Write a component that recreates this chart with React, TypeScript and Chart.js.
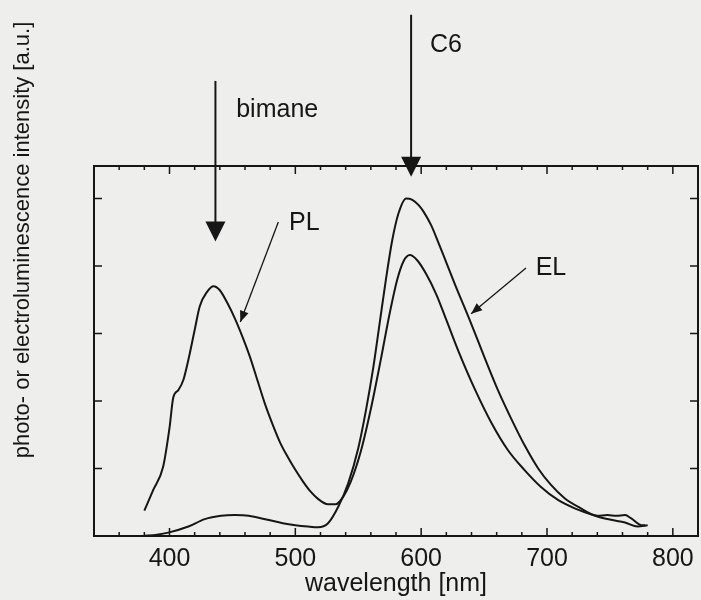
import React, { useEffect, useRef } from 'react';
import { Chart, registerables } from 'chart.js';

Chart.register(...registerables);

// ---- data ----
const plWavelength = [380, 387, 395, 400, 403, 407, 411, 415, 420, 424, 430, 435, 440, 446, 452, 458, 464, 470, 476, 482, 488, 494, 500, 506, 512, 518, 526, 532, 538, 544, 552, 560, 568, 575, 581, 586, 591, 597, 604, 612, 620, 630, 643, 656, 669, 682, 695, 709, 722, 740, 751, 762, 772, 780];
const plIntensity = [0.375, 0.68, 1.03, 1.6, 2.05, 2.16, 2.31, 2.61, 3.05, 3.4, 3.62, 3.7, 3.64, 3.45, 3.22, 2.95, 2.65, 2.3, 1.95, 1.65, 1.38, 1.17, 0.98, 0.81, 0.66, 0.55, 0.47, 0.47, 0.58, 0.8, 1.25, 1.88, 2.62, 3.3, 3.8, 4.07, 4.16, 4.08, 3.88, 3.58, 3.2, 2.72, 2.16, 1.67, 1.27, 0.98, 0.73, 0.53, 0.41, 0.29, 0.24, 0.2, 0.14, 0.16];

const elWavelength = [379, 390, 399, 415, 428, 441, 452, 463, 478, 490, 500, 510, 518, 526, 534, 542, 550, 556, 562, 567, 572, 577, 582, 588, 593, 598, 602, 608, 614, 620, 627, 639, 650, 661, 672, 682, 693, 703, 714, 725, 740, 748, 755, 762, 767, 775, 778];
const elIntensity = [0.0, 0.02, 0.05, 0.14, 0.25, 0.3, 0.31, 0.3, 0.24, 0.19, 0.16, 0.14, 0.13, 0.19, 0.43, 0.78, 1.3, 1.85, 2.5, 3.15, 3.8, 4.38, 4.78, 5.0, 4.98, 4.9, 4.8, 4.6, 4.33, 4.05, 3.72, 3.18, 2.66, 2.16, 1.72, 1.35, 1.0, 0.76, 0.56, 0.43, 0.3, 0.31, 0.3, 0.31, 0.26, 0.16, 0.16];

const xTickLabels = [400, 500, 600, 700, 800];
const xMinorTicks = [360, 380, 420, 440, 460, 480, 520, 540, 560, 580, 620, 640, 660, 680, 720, 740, 760, 780];
const yTicks = [1, 2, 3, 4, 5];

const xTitle = 'wavelength [nm]';
const yTitle = 'photo- or electroluminescence intensity [a.u.]';

// annotation arrows (in data units: wavelength, intensity)
const bigArrows = [
  { text: 'bimane', x: 436.5, from: 6.74, to: 4.36, tx: 453, ty: 6.21 },
  { text: 'C6', x: 592, from: 7.72, to: 5.32, tx: 607, ty: 7.17 },
];
const pointers = [
  { text: 'PL', x0: 486.5, y0: 4.65, x1: 456.3, y1: 3.17, tx: 495, ty: 4.53 },
  { text: 'EL', x0: 683.3, y0: 3.97, x1: 639.7, y1: 3.29, tx: 691, ty: 3.87 },
];

const FONT = '"Liberation Sans", Arial, Helvetica, sans-serif';
const INK = '#161616';
const PAPER = '#eeeeec';

function arrowHead(ctx: CanvasRenderingContext2D, x0: number, y0: number, x1: number, y1: number, len: number, half: number) {
  const ang = Math.atan2(y1 - y0, x1 - x0);
  ctx.beginPath();
  ctx.moveTo(x1, y1);
  ctx.lineTo(x1 - len * Math.cos(ang) + half * Math.sin(ang), y1 - len * Math.sin(ang) - half * Math.cos(ang));
  ctx.lineTo(x1 - len * Math.cos(ang) - half * Math.sin(ang), y1 - len * Math.sin(ang) + half * Math.cos(ang));
  ctx.closePath();
  ctx.fill();
}

const decor = {
  id: 'decor',
  beforeDraw(chart: any) {
    const { ctx, width, height } = chart;
    ctx.save();
    ctx.fillStyle = PAPER;
    ctx.fillRect(0, 0, width, height);
    ctx.restore();
  },
  afterDraw(chart: any) {
    const { ctx, chartArea: a, scales } = chart;
    const x = scales.x;
    const y = scales.y;
    ctx.save();
    ctx.strokeStyle = INK;
    ctx.fillStyle = INK;
    ctx.lineWidth = 2;
    ctx.strokeRect(a.left, a.top, a.right - a.left, a.bottom - a.top);

    ctx.lineWidth = 1.5;
    const tick = (px: number, len: number) => {
      ctx.beginPath();
      ctx.moveTo(px, a.bottom);
      ctx.lineTo(px, a.bottom - len);
      ctx.moveTo(px, a.top);
      ctx.lineTo(px, a.top + len);
      ctx.stroke();
    };
    xTickLabels.forEach((v) => tick(x.getPixelForValue(v), 8));
    xMinorTicks.forEach((v) => tick(x.getPixelForValue(v), 4));
    yTicks.forEach((v) => {
      const py = y.getPixelForValue(v);
      ctx.beginPath();
      ctx.moveTo(a.left, py);
      ctx.lineTo(a.left + 8, py);
      ctx.moveTo(a.right, py);
      ctx.lineTo(a.right - 8, py);
      ctx.stroke();
    });

    // y title
    ctx.save();
    ctx.font = `22px ${FONT}`;
    ctx.textAlign = 'center';
    ctx.textBaseline = 'middle';
    ctx.translate(23, 240);
    ctx.rotate(-Math.PI / 2);
    ctx.fillText(yTitle, 0, 0);
    ctx.restore();

    // big vertical arrows
    ctx.lineWidth = 2;
    bigArrows.forEach((ar) => {
      const px = x.getPixelForValue(ar.x);
      const p0 = y.getPixelForValue(ar.from);
      const p1 = y.getPixelForValue(ar.to);
      ctx.beginPath();
      ctx.moveTo(px, p0);
      ctx.lineTo(px, p1 - 12);
      ctx.stroke();
      arrowHead(ctx, px, p0, px, p1, 20, 10);
      ctx.font = `25px ${FONT}`;
      ctx.textAlign = 'left';
      ctx.textBaseline = 'alphabetic';
      ctx.fillText(ar.text, x.getPixelForValue(ar.tx), y.getPixelForValue(ar.ty));
    });

    // pointer arrows
    ctx.lineWidth = 1.3;
    pointers.forEach((p) => {
      const x0 = x.getPixelForValue(p.x0);
      const y0 = y.getPixelForValue(p.y0);
      const x1 = x.getPixelForValue(p.x1);
      const y1 = y.getPixelForValue(p.y1);
      ctx.beginPath();
      ctx.moveTo(x0, y0);
      ctx.lineTo(x1, y1);
      ctx.stroke();
      arrowHead(ctx, x0, y0, x1, y1, 11, 4.5);
      ctx.font = `25px ${FONT}`;
      ctx.textAlign = 'left';
      ctx.textBaseline = 'alphabetic';
      ctx.fillText(p.text, x.getPixelForValue(p.tx), y.getPixelForValue(p.ty));
    });
    ctx.restore();
  },
};

export default function App() {
  const ref = useRef<HTMLCanvasElement | null>(null);
  useEffect(() => {
    if (!ref.current) return;
    const toPts = (xs: number[], ys: number[]) => xs.map((v, i) => ({ x: v, y: ys[i] }));
    const chart = new Chart(ref.current, {
      type: 'line',
      data: {
        datasets: [
          {
            label: 'PL',
            data: toPts(plWavelength, plIntensity),
            borderColor: INK,
            borderWidth: 2,
            pointRadius: 0,
            cubicInterpolationMode: 'monotone',
            fill: false,
          },
          {
            label: 'EL',
            data: toPts(elWavelength, elIntensity),
            borderColor: INK,
            borderWidth: 2,
            pointRadius: 0,
            cubicInterpolationMode: 'monotone',
            fill: false,
          },
        ],
      },
      options: {
        responsive: false,
        animation: false,
        events: [],
        layout: { padding: { top: 166, right: 3, left: 0, bottom: 0 } },
        plugins: { legend: { display: false }, tooltip: { enabled: false } },
        scales: {
          x: {
            type: 'linear',
            min: 340,
            max: 820,
            grid: { display: false },
            border: { display: false },
            afterBuildTicks: (scale: any) => {
              scale.ticks = xTickLabels.map((v) => ({ value: v }));
            },
            afterFit: (scale: any) => {
              scale.height = 64;
            },
            ticks: {
              autoSkip: false,
              maxRotation: 0,
              padding: 0,
              color: INK,
              font: { family: FONT, size: 25 },
            },
            title: {
              display: true,
              text: xTitle,
              color: INK,
              font: { family: FONT, size: 25 },
              padding: { top: 0, bottom: 1 },
            },
          },
          y: {
            type: 'linear',
            min: 0,
            max: 5.48,
            grid: { display: false },
            border: { display: false },
            ticks: { display: false },
            afterFit: (scale: any) => {
              scale.width = 94;
            },
          },
        },
      },
      plugins: [decor],
    } as any);
    return () => chart.destroy();
  }, []);
  return (
    <div style={{ position: 'fixed', left: 0, top: 0, width: 701, height: 600 }}>
      <canvas ref={ref} width={701} height={600} style={{ display: 'block' }} />
    </div>
  );
}
